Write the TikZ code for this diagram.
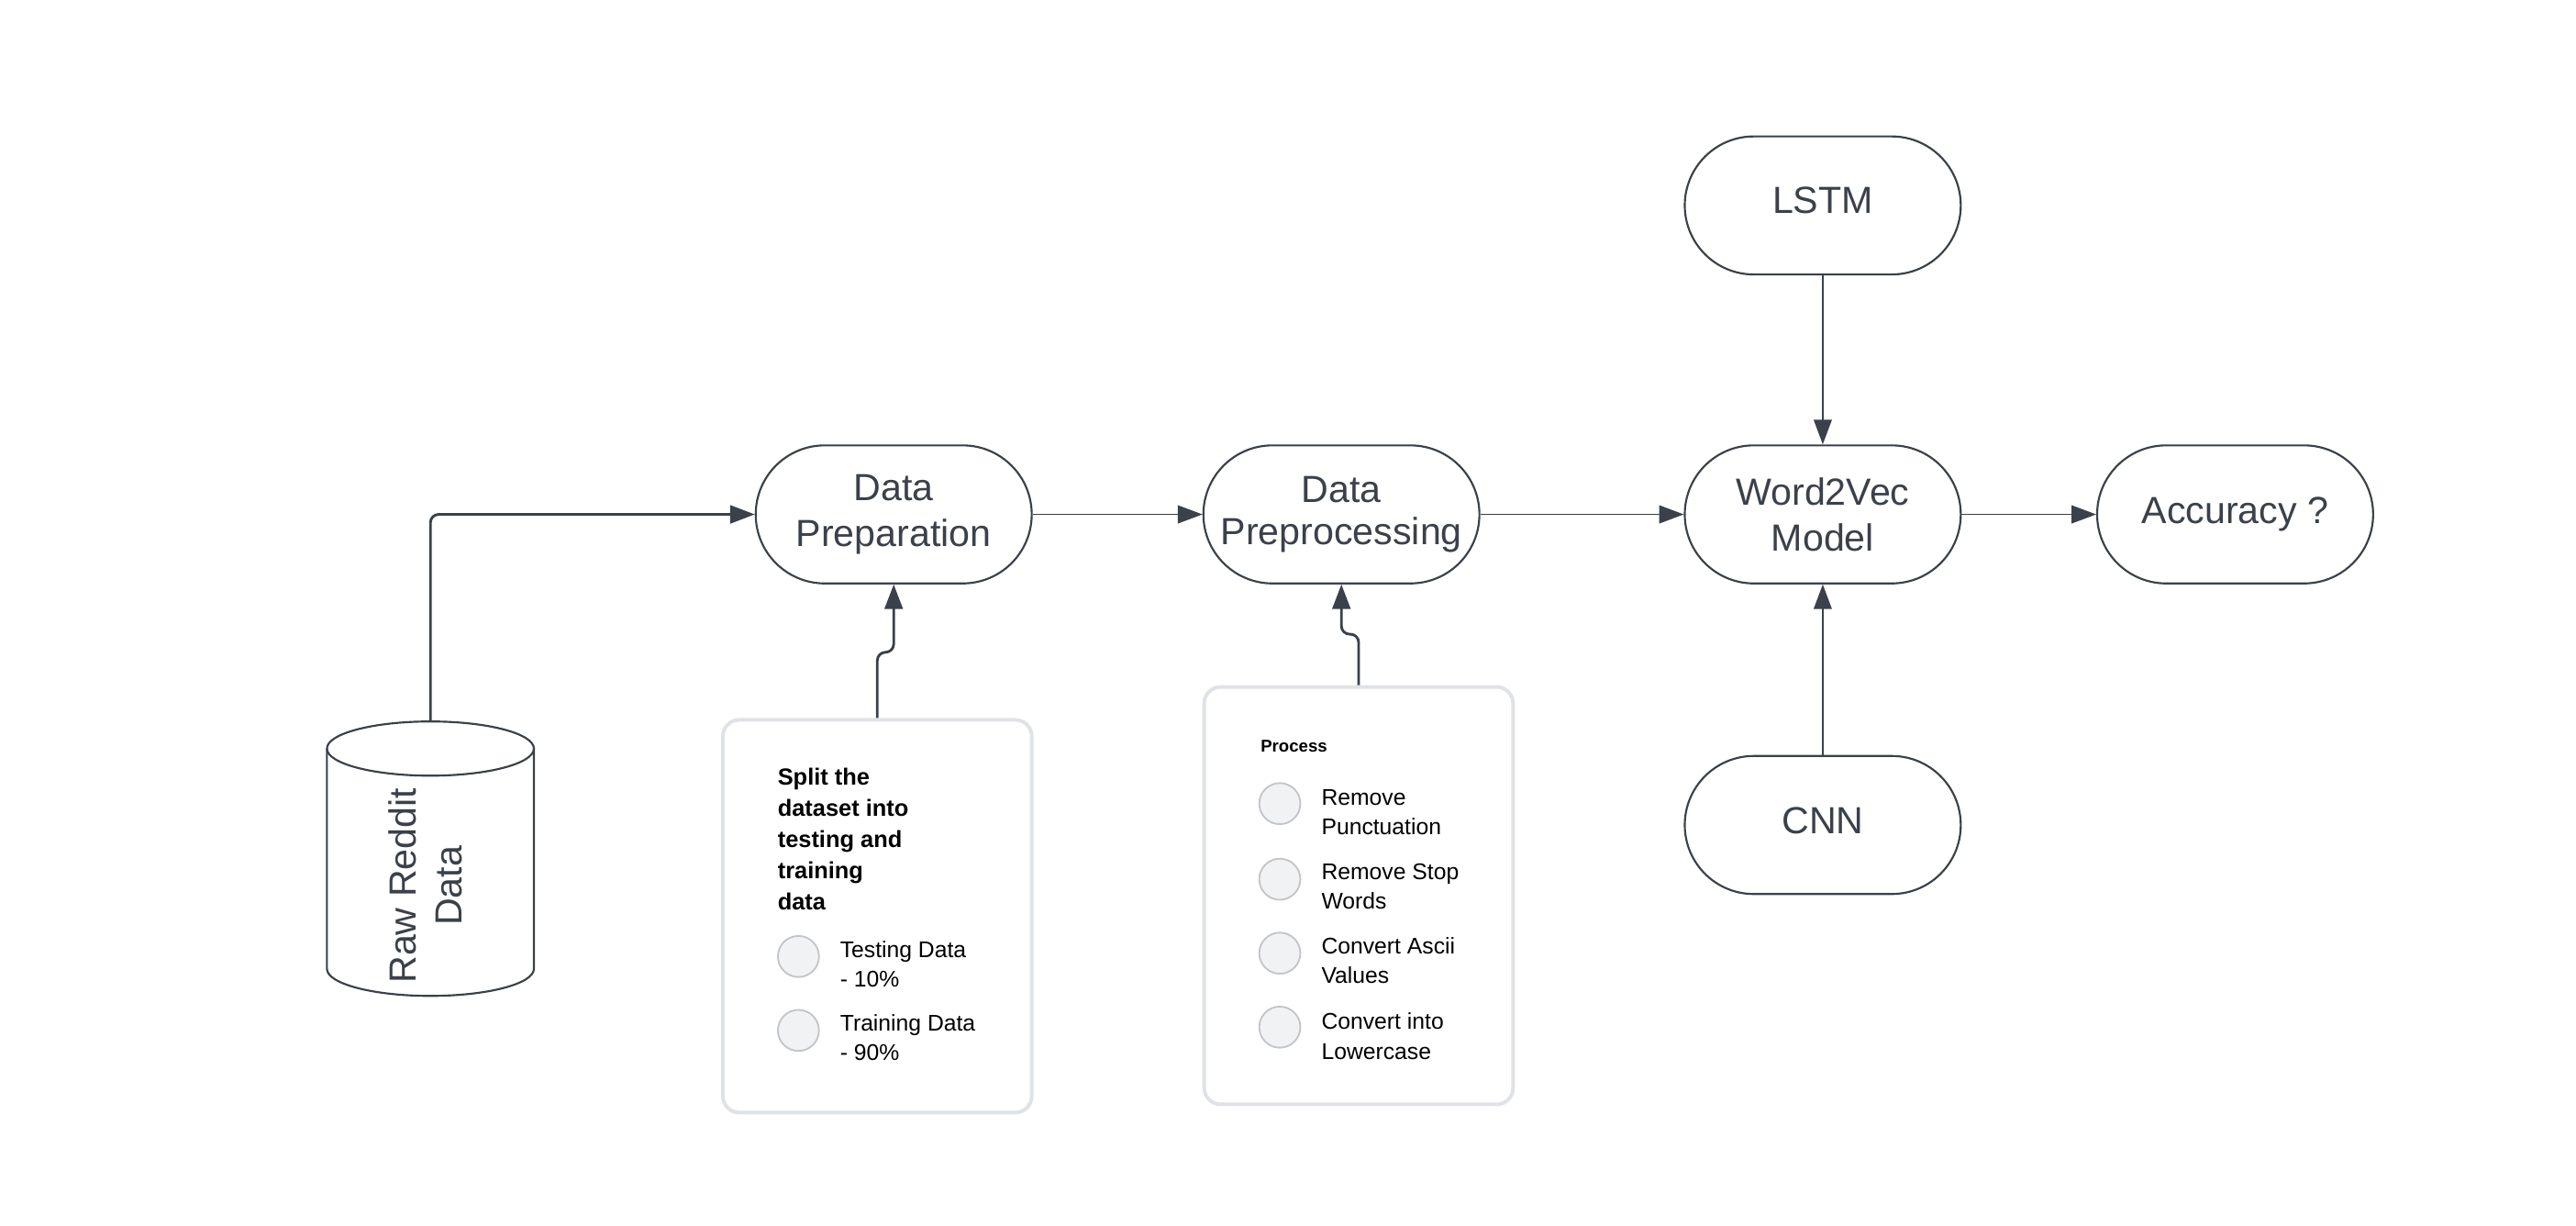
\documentclass[tikz,border=0pt]{standalone}
\usepackage{fontspec}
\setmainfont{Liberation Sans}
\usetikzlibrary{arrows.meta}
\definecolor{ink}{HTML}{3A414A}
\definecolor{boxline}{HTML}{DFE2E6}
\definecolor{dotfill}{HTML}{F1F2F4}
\definecolor{dotline}{HTML}{C2C4C7}
\begin{document}
\begin{tikzpicture}[x=0.5pt,y=-0.5pt,
  stadium/.style={draw=ink, line width=0.6pt, rounded corners=21pt, minimum width=84pt, minimum height=42pt, text=ink, font=\fontsize{11.5}{14}\selectfont, align=center, inner sep=0pt},
  panel/.style={draw=boxline, line width=1.1pt, rounded corners=5pt, fill=white, inner sep=0pt},
  dot/.style={circle, draw=dotline, fill=dotfill, line width=0.5pt, minimum size=12.5pt, inner sep=0pt},
  itemtext/.style={anchor=north west, align=left, inner sep=0pt, font=\fontsize{6.9}{9}\selectfont},
  headtext/.style={anchor=north west, align=left, inner sep=0pt, font=\fontsize{7.1}{9.5}\selectfont\bfseries},
  conn/.style={draw=ink, line width=0.45pt, -{Triangle[length=7.5pt,width=5.5pt]}},
  connthick/.style={conn, line width=0.8pt, rounded corners=2.5pt},
  cylline/.style={draw=ink, line width=0.6pt}]
\useasboundingbox (0,0) rectangle (1568,746);

% main nodes
\node[stadium] (prep) at (544,313) {Data\\Preparation};
\node[stadium] (pre) at (816.5,313) {\raisebox{1.5pt}{\shortstack{Data\\[1.2pt]Preprocessing}}};
\node[stadium] (w2v) at (1109.5,313) {Word2Vec\\Model};
\node[stadium] (acc) at (1360.5,313) {Accuracy ?};
\node[stadium] (lstm) at (1109.5,125) {\raisebox{3pt}{LSTM}};
\node[stadium] (cnn) at (1109.5,502) {\raisebox{3pt}{CNN}};

% cylinder (drawn directly)
\draw[cylline] (199,455.5) -- (199,589.5) arc[start angle=180, end angle=0, x radius=63, y radius=16.5] -- (325,455.5);
\draw[cylline] (262,455.5) ellipse [x radius=63, y radius=16.5];
\coordinate (rawtop) at (262,439);
\node[rotate=90, inner sep=0pt, text=ink, align=center, font=\fontsize{11.5}{14}\selectfont] (raw) at (259,539) {Raw Reddit\\Data};

% panels
\node[panel, minimum width=94pt, minimum height=119.5pt] (split) at (534,557.5) {};
\node[panel, minimum width=94pt, minimum height=127pt] (proc) at (827,545) {};

% panel 1 content
\node[headtext] (splith) at (473,467) {Split the\\dataset into\\testing and\\training\\data};
\node[dot] (d1) at (486,582) {};
\node[itemtext] (t1) at (511,572) {Testing Data\\- 10\%};
\node[dot] (d2) at (486,627) {};
\node[itemtext] (t2) at (511,617) {Training Data\\- 90\%};

% panel 2 content
\node[anchor=north west, inner sep=0pt, font=\fontsize{5.2}{6}\selectfont\bfseries] (proch) at (767,450) {Process};
\node[dot] (e1) at (779,489) {};
\node[itemtext] (u1) at (804,480) {Remove\\Punctuation};
\node[dot] (e2) at (779,535) {};
\node[itemtext] (u2) at (804,525) {Remove Stop\\Words};
\node[dot] (e3) at (779,580) {};
\node[itemtext] (u3) at (804,570) {Convert Ascii\\Values};
\node[dot] (e4) at (779,625) {};
\node[itemtext] (u4) at (804,616) {Convert into\\Lowercase};

% connectors
\draw[connthick] (rawtop) |- (prep.west);
\draw[connthick] (split.north) -- ++(0,-40) -| (prep.south);
\draw[connthick] (proc.north) -- ++(0,-31) -| (pre.south);
\draw[conn] (prep.east) -- (pre.west);
\draw[conn] (pre.east) -- (w2v.west);
\draw[conn] (w2v.east) -- (acc.west);
\draw[conn] (lstm.south) -- (w2v.north);
\draw[conn] (cnn.north) -- (w2v.south);
\end{tikzpicture}
\end{document}
